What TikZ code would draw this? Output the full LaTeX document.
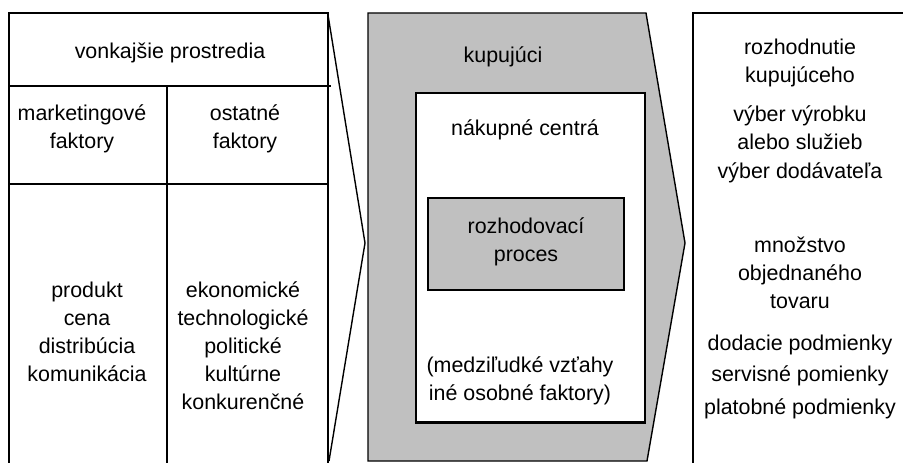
\documentclass[tikz,border=0pt]{standalone}
\usepackage{fontspec}
\setmainfont{Liberation Sans}
\definecolor{silver}{RGB}{192,192,192}
\begin{document}
\begin{tikzpicture}[x=1bp,y=-1bp,
  line width=1.4bp,
  lbl/.style={align=center,inner sep=0pt,font=\fontsize{21.5}{28}\selectfont},
  edge/.style={draw=black,line width=1.4bp}]
\useasboundingbox (0,0) rectangle (903,463);
\clip (0,0) rectangle (903,463);
\fill[white] (0,0) rectangle (903,463);
% left panel
\draw[edge] (9,470) -- (9,13) -- (328,13) -- (328,470);
\draw[edge] (9,86) -- (331,86);
\draw[edge] (9,184) -- (328,184);
\draw[edge] (167,86) -- (167,470);
% left chevron
\coordinate (c1) at (328,15);
\coordinate (c2) at (365,243);
\coordinate (c3) at (329,461);
\draw[edge] (c1) -- (c2) -- (c3);
% middle panel
\filldraw[fill=silver,edge] (368,461) -- (368,13) -- (646,13) -- (685,243) -- (647,461) -- cycle;
\filldraw[fill=white,edge] (416,93) rectangle (645,422);
\draw[line width=2.6bp] (645,92) -- (645,423) -- (415,423);
\filldraw[fill=silver,edge] (428,198) rectangle (624,290);
% right panel
\draw[edge] (693,470) -- (693,13) -- (910,13);
% texts left
\node[lbl] (vonk) at (170,53) {vonkajšie prostredia};
\node[lbl] (mf) at (82,129) {marketingové\\faktory};
\node[lbl] (of) at (245,129) {ostatné\\faktory};
\node[lbl] (ml) at (87,332) {produkt\\cena\\distribúcia\\komunikácia};
\node[lbl] (ol) at (243,346) {ekonomické\\technologické\\politické\\kultúrne\\konkurenčné};
% texts middle
\node[lbl] (kup) at (503,57) {kupujúci};
\node[lbl] (nak) at (525,130) {nákupné centrá};
\node[lbl] (roz) at (526,242) {rozhodovací\\proces};
\node[lbl] (medz) at (520,381) {(medziľudké vzťahy\\iné osobné faktory)};
% texts right
\node[lbl] (r1) at (800,63) {rozhodnutie\\kupujúceho};
\node[lbl] (r2) at (800,128) {výber výrobku\\alebo služieb};
\node[lbl] (r3) at (800,173) {výber dodávateľa};
\node[lbl] (r4) at (800,273) {množstvo\\objednaného\\tovaru};
\node[lbl] (r5) at (800,345) {dodacie podmienky};
\node[lbl] (r6) at (800,376) {servisné pomienky};
\node[lbl] (r7) at (800,409) {platobné podmienky};
\end{tikzpicture}
\end{document}
